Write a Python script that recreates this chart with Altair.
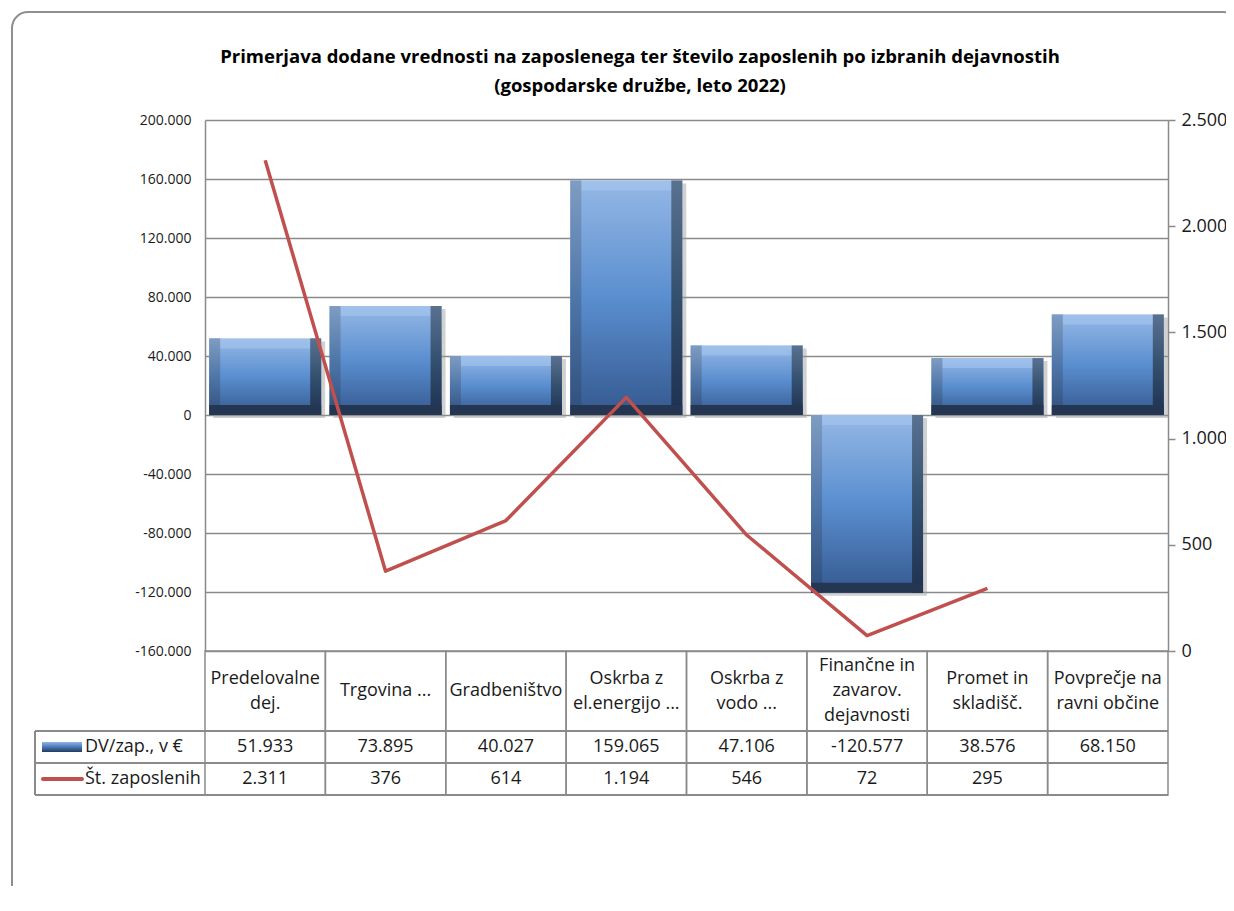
import altair as alt
import pandas as pd

# ---------------- data ----------------
categories = [
    "Predelovalne dej.", "Trgovina ...", "Gradbeništvo", "Oskrba z el.energijo ...",
    "Oskrba z vodo ...", "Finančne in zavarov. dejavnosti", "Promet in skladišč.",
    "Povprečje na ravni občine",
]
header_labels = [
    "Predelovalne\ndej.", "Trgovina ...", "Gradbeništvo", "Oskrba z\nel.energijo ...",
    "Oskrba z\nvodo ...", "Finančne in\nzavarov.\ndejavnosti", "Promet in\nskladišč.",
    "Povprečje na\nravni občine",
]
dv_values = [51933, 73895, 40027, 159065, 47106, -120577, 38576, 68150]
employees = [2311, 376, 614, 1194, 546, 72, 295, None]
left_ticks = [-160000, -120000, -80000, -40000, 0, 40000, 80000, 120000, 160000, 200000]
right_ticks = [0, 500, 1000, 1500, 2000, 2500]
series_names = ["DV/zap., v €", "Št. zaposlenih"]
title_lines = [
    "Primerjava dodane vrednosti na zaposlenega ter število zaposlenih po izbranih dejavnostih",
    "(gospodarske družbe, leto 2022)",
]

df = pd.DataFrame({
    "cat": categories, "label": header_labels, "dv": dv_values, "zap": employees,
    "nlines": [s.count("\n") + 1 for s in header_labels],
})

# ---------------- layout constants ----------------
W, H = 963, 531
FONT = "Open Sans"
TXT = "#1a1a1a"
GRID = "#8a8a8a"
RED = "#c0504d"
FS = 18
HEADER_Y, ROW1_Y, ROW2_Y, TABLE_BOTTOM = H + 40, H + 96, H + 128, H + 144
ROW_LINE1, ROW_LINE2 = H + 80, H + 112
LINE_H = 25
LEFT_COL = -170
BEVEL = 10

base = alt.Chart(df)
x_enc = alt.X("cat:N", sort=categories, scale=alt.Scale(paddingInner=0, paddingOuter=0), axis=None)


def y_dv(field="dv:Q", axis=None):
    return alt.Y(field, scale=alt.Scale(domain=[-160000, 200000], nice=False, zero=False), axis=axis)


left_axis = alt.Axis(
    orient="left", values=left_ticks, format=",d", grid=True, gridColor=GRID, gridWidth=1.5,
    domain=True, domainColor=GRID, domainWidth=1.5, ticks=False,
    labelFont=FONT, labelFontSize=14, labelColor=TXT, labelPadding=14, title=None)


def vgrad(c0, c1, c2):
    return alt.Gradient(
        gradient="linear", x1=0, x2=0, y1=0, y2=1,
        stops=[alt.GradientStop(color=c0, offset=0),
               alt.GradientStop(color=c1, offset=0.5),
               alt.GradientStop(color=c2, offset=1)],
    )


face_grad = vgrad("#95b8e6", "#5a8ecf", "#35598f")
left_grad = vgrad("#7f9cc2", "#4f76a8", "#2f4f7c")
right_grad = vgrad("#5a7190", "#34506f", "#1e3050")

shadow = base.mark_bar(width=alt.RelativeBandSize(0.93), color="#9a9a9a", opacity=0.45,
                       xOffset=4, yOffset=3, y2Offset=3).encode(
    x=x_enc, y=y_dv(axis=left_axis), y2=alt.datum(0))
bars = base.mark_bar(width=alt.RelativeBandSize(0.93), color=face_grad).encode(
    x=x_enc, y=y_dv(), y2=alt.datum(0))
top_bevel = base.transform_calculate(hi="max(datum.dv, 0)").mark_bar(
    width=alt.RelativeBandSize(0.93), color="#a8c8ef", opacity=0.55, y2Offset=BEVEL).encode(
    x=x_enc, y=y_dv("hi:Q"), y2="hi:Q")
left_bevel = base.mark_bar(width=11, xOffset=-50.5, color=left_grad).encode(
    x=x_enc, y=y_dv(), y2=alt.datum(0))
right_bevel = base.mark_bar(width=11, xOffset=50.5, color=right_grad).encode(
    x=x_enc, y=y_dv(), y2=alt.datum(0))
bottom_bevel = base.transform_calculate(lo="min(datum.dv, 0)").mark_bar(
    width=alt.RelativeBandSize(0.93), color="#243652", y2Offset=-BEVEL).encode(
    x=x_enc, y=y_dv("lo:Q"), y2="lo:Q")

line = base.transform_filter("isValid(datum.zap)").mark_line(
    color=RED, strokeWidth=3.5, strokeJoin="round").encode(
    x=x_enc,
    y=alt.Y("zap:Q", scale=alt.Scale(domain=[0, 2500], nice=False),
            axis=alt.Axis(orient="right", values=right_ticks, format=",d", grid=False,
                          domain=True, domainColor=GRID, domainWidth=1.5,
                          ticks=True, tickColor=GRID, tickWidth=1.5, tickSize=7,
                          labelFont=FONT, labelFontSize=18, labelColor=TXT,
                          labelPadding=6, title=None)),
)

# ---------------- data table ----------------
cells = base.mark_rect(fillOpacity=0, stroke=GRID, strokeWidth=1.5).encode(
    x=x_enc, y=alt.value(H), y2=alt.value(TABLE_BOTTOM))
hlines = [
    base.mark_rule(color=GRID, strokeWidth=1.5).encode(
        x=alt.value(LEFT_COL), x2=alt.value(W), y=alt.value(yy))
    for yy in (ROW_LINE1, ROW_LINE2, TABLE_BOTTOM)
]
left_col = base.mark_rule(color=GRID, strokeWidth=1.5).encode(
    x=alt.value(LEFT_COL), y=alt.value(ROW_LINE1), y2=alt.value(TABLE_BOTTOM))
headers = [
    base.transform_filter(f"datum.nlines == {n}").mark_text(
        font=FONT, fontSize=FS, lineBreak="\n", lineHeight=LINE_H, baseline="middle", color=TXT
    ).encode(x=x_enc, y=alt.value(HEADER_Y - (n - 1) * LINE_H / 2), text="label:N")
    for n in (1, 2, 3)
]
row_dv = base.mark_text(font=FONT, fontSize=FS, baseline="middle", color=TXT).encode(
    x=x_enc, y=alt.value(ROW1_Y), text=alt.Text("dv:Q", format=",d"))
row_zap = base.transform_filter("isValid(datum.zap)").mark_text(
    font=FONT, fontSize=FS, baseline="middle", color=TXT).encode(
    x=x_enc, y=alt.value(ROW2_Y), text=alt.Text("zap:Q", format=",d"))

swatch_grad = vgrad("#8fb4e3", "#4a78b5", "#233a5e")
one = alt.Chart(alt.Data(values=[{}]))
swatch_dv = one.mark_rect(color=swatch_grad).encode(
    x=alt.value(-163), x2=alt.value(-123), y=alt.value(ROW1_Y - 5), y2=alt.value(ROW1_Y + 5))
swatch_zap = one.mark_rule(color=RED, strokeWidth=4, strokeCap="round").encode(
    x=alt.value(-162), x2=alt.value(-123), y=alt.value(ROW2_Y))
names = [
    one.mark_text(font=FONT, fontSize=FS, align="left", baseline="middle", color=TXT).encode(
        x=alt.value(-120), y=alt.value(yy), text=alt.value(nm))
    for nm, yy in zip(series_names, (ROW1_Y, ROW2_Y))
]
titles = [
    one.mark_text(font=FONT, fontSize=18.5, fontWeight="bold", baseline="middle", color="#000000").encode(
        x=alt.value(435), y=alt.value(yy), text=alt.value(tl))
    for tl, yy in zip(title_lines, (-63, -34))
]

frame = one.mark_rect(fillOpacity=0, stroke="#8f8f8f", strokeWidth=2, cornerRadius=16).encode(
    x=alt.value(-193), x2=alt.value(1034), y=alt.value(-108), y2=alt.value(810))

chart = alt.layer(
    frame, shadow, bars, top_bevel, left_bevel, right_bevel, bottom_bevel,
    cells, *hlines, left_col, *headers, row_dv, row_zap,
    swatch_dv, swatch_zap, *names, *titles, line,
).resolve_scale(y="independent").properties(
    width=W, height=H,
    autosize=alt.AutoSizeParams(type="none"),
    padding={"left": 197, "top": 112, "right": 58, "bottom": 235},
).configure(
    locale={"number": {"decimal": ",", "thousands": ".", "grouping": [3],
                       "currency": ["", " €"], "minus": "-"}},
).configure_view(stroke=None)

chart.save("out.html", embed_options={"renderer": "svg", "actions": False})
